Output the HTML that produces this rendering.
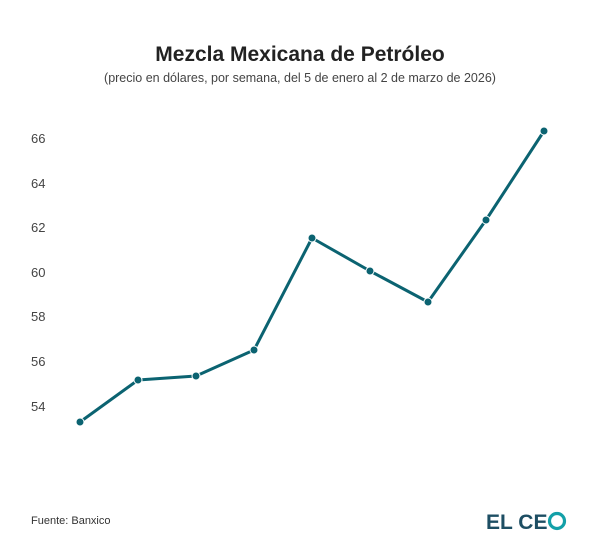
<!DOCTYPE html>
<html><head><meta charset="utf-8"><style>
body{margin:0;background:#fff;}
svg{display:block;font-family:"Liberation Sans",sans-serif;}
</style></head><body>
<svg width="600" height="550" viewBox="0 0 600 550">
<rect width="600" height="550" fill="#fff"/>
<text x="300" y="61" text-anchor="middle" font-size="21" font-weight="bold" fill="#222">Mezcla Mexicana de Petróleo</text>
<text x="300" y="82" text-anchor="middle" font-size="12.5" fill="#444">(precio en dólares, por semana, del 5 de enero al 2 de marzo de 2026)</text>
<g font-size="13" fill="#444">
<text x="31" y="143">66</text>
<text x="31" y="188">64</text>
<text x="31" y="232">62</text>
<text x="31" y="277">60</text>
<text x="31" y="321">58</text>
<text x="31" y="366">56</text>
<text x="31" y="411">54</text>
</g>
<polyline fill="none" stroke="#0b6371" stroke-width="3" stroke-linejoin="round" points="80,422 138,380 196,376 254,350 312,238 370,271 428,302 486,220 544,131"/>
<g fill="#0b6371" stroke="#fff" stroke-width="1">
<circle cx="80" cy="422" r="4"/><circle cx="138" cy="380" r="4"/><circle cx="196" cy="376" r="4"/><circle cx="254" cy="350" r="4"/><circle cx="312" cy="238" r="4"/><circle cx="370" cy="271" r="4"/><circle cx="428" cy="302" r="4"/><circle cx="486" cy="220" r="4"/><circle cx="544" cy="131" r="4"/>
</g>
<text x="31" y="524" font-size="11" fill="#333">Fuente: Banxico</text>
<text x="486" y="529" font-size="21" font-weight="bold" fill="#1d4e63">EL CE</text>
<circle cx="557" cy="521" r="7.5" fill="none" stroke="#13a0a8" stroke-width="3.2"/>
</svg>
</body></html>
